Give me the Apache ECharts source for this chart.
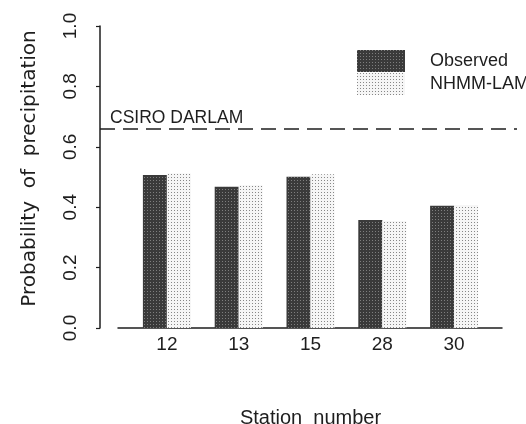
<!DOCTYPE html>
<html><head><meta charset="utf-8">
<script src="https://cdn.jsdelivr.net/npm/echarts@6/dist/echarts.min.js"></script>
<style>html,body{margin:0;padding:0;background:#fff}#c{width:526px;height:424px}</style>
</head><body><div id="c"></div>
<script>
const stations = ['12', '13', '15', '28', '30'];
const observed = [0.507, 0.468, 0.501, 0.358, 0.405];
const nhmmLam = [0.512, 0.473, 0.509, 0.354, 0.407];
const darlamValue = 0.66;
const yTicks = [0, 0.2, 0.4, 0.6, 0.8, 1.0];

const FONT = 'Liberation Sans';
const INK = '#1e1e1e';
const chart = echarts.init(document.getElementById('c'), null, {renderer: 'canvas'});
chart.setOption({
  backgroundColor: '#fff',
  animation: false,
  aria: {enabled: true, decal: {show: true}},
  textStyle: {fontFamily: FONT, color: INK},
  grid: [
    {left: 100, right: 9, top: 26, bottom: 96, outerBoundsMode: 'none'},
    {left: 131, right: 36, top: 26, bottom: 96, outerBoundsMode: 'none'},
    {left: 118, right: 24, top: 26, bottom: 96, outerBoundsMode: 'none'}
  ],
  legend: {
    data: ['Observed', 'NHMM-LAM'],
    orient: 'vertical', left: 357, top: 50, padding: 0,
    icon: 'rect',
    itemWidth: 48, itemHeight: 22, itemGap: 1,
    textStyle: {fontSize: 18, color: INK, fontFamily: FONT, padding: [0, 0, 0, 20]}
  },
  xAxis: [
    {type: 'value', gridIndex: 0, show: false, min: 0, max: 1},
    {type: 'category', gridIndex: 1, data: stations,
      axisLine: {show: false}, axisTick: {show: false}, splitLine: {show: false},
      axisLabel: {fontSize: 19, color: INK, margin: 7, fontFamily: FONT},
      name: 'Station  number', nameLocation: 'middle', nameGap: 80,
      nameTextStyle: {fontSize: 20, color: INK, fontFamily: FONT}},
    {type: 'value', gridIndex: 2, min: 0, max: 1,
      axisLine: {show: true, lineStyle: {color: INK, width: 1.5}},
      axisTick: {show: false}, axisLabel: {show: false}, splitLine: {show: false}}
  ],
  yAxis: [
    {type: 'value', gridIndex: 0, min: 0, max: 1, interval: 0.2,
      axisLine: {show: true, lineStyle: {color: INK, width: 1.5}},
      axisTick: {show: true, length: 4, lineStyle: {color: INK, width: 1.2}},
      splitLine: {show: false},
      axisLabel: {rotate: 90, fontSize: 19, color: INK, margin: 20, fontFamily: FONT,
        formatter: v => { const t = yTicks.find(x => Math.abs(x - v) < 1e-9); return t === undefined ? '' : t.toFixed(1); }},
      name: 'Probability  of  precipitation', nameLocation: 'middle', nameRotate: 90, nameGap: 60,
      nameTextStyle: {fontSize: 20, color: INK, fontFamily: 'DejaVu Sans', padding: [0, 0, 0, 17]}},
    {type: 'value', gridIndex: 1, min: 0, max: 1, show: false},
    {type: 'value', gridIndex: 2, min: 0, max: 1, show: false}
  ],
  series: [
    {name: 'Observed', type: 'bar', xAxisIndex: 1, yAxisIndex: 1, data: observed,
      barWidth: 24, barGap: '0%',
      itemStyle: {color: '#3a3a3a',
        decal: {symbol: 'rect', symbolSize: 1, dashArrayX: [[1, 2]], dashArrayY: [1, 2], color: 'rgba(255,255,255,0.35)', rotation: 0}}},
    {name: 'NHMM-LAM', type: 'bar', xAxisIndex: 1, yAxisIndex: 1, data: nhmmLam,
      barWidth: 24,
      itemStyle: {color: '#f6f6f6',
        decal: {symbol: 'rect', symbolSize: 1, dashArrayX: [[1, 2]], dashArrayY: [1, 2], color: 'rgba(0,0,0,0.45)', rotation: 0}}},
    {name: 'darlam', type: 'line', xAxisIndex: 0, yAxisIndex: 0, data: [],
      markLine: {symbol: 'none', silent: true,
        lineStyle: {color: INK, type: [15, 8], width: 1.5},
        label: {show: true, position: 'insideStartTop', formatter: 'CSIRO DARLAM',
          fontSize: 17.5, color: INK, fontFamily: FONT, distance: [10, 2]},
        data: [{yAxis: darlamValue}]}}
  ]
});
</script></body></html>
